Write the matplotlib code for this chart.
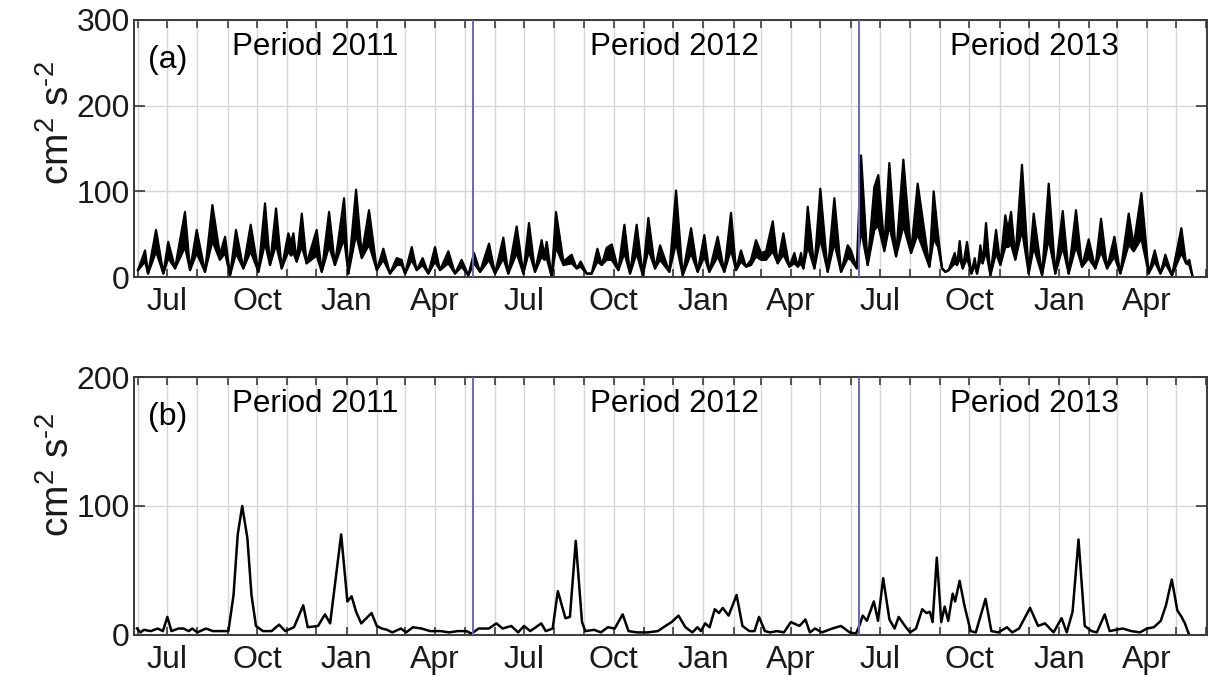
import datetime as dt

import matplotlib
matplotlib.use("Agg")
import matplotlib.dates as mdates
import matplotlib.pyplot as plt
import numpy as np
from matplotlib.ticker import FuncFormatter, MultipleLocator

plt.rcParams["font.family"] = ["Liberation Sans", "DejaVu Sans"]
plt.rcParams["mathtext.fontset"] = "custom"
plt.rcParams["mathtext.rm"] = "Liberation Sans"
plt.rcParams["mathtext.it"] = "Liberation Sans"

START = dt.datetime(2011, 6, 1)

# (a) days after START, upper and lower edge of the tidal band (cm^2 s^-2)
top_days = [
    0, 7.2, 10.3, 18.5, 26, 31, 38, 48.2, 53.4, 60.2, 68.7, 76.3, 84, 89.3, 94.4,
    100.5, 108, 115.6, 123.5, 130.3, 135.4, 141.6, 147.4, 154.2, 157, 159.4, 162.8,
    168, 173, 183.3, 188.5, 196, 202, 211.4, 215.8, 223.7, 229.5, 237, 245, 251.7,
    258.5, 265.4, 270.5, 274, 280.8, 285.9, 292, 297.9, 304.7, 309.8, 318.4, 325.2,
    332, 338.9, 344.7, 350.9, 360.1, 366.3, 374.8, 379.9, 388.5, 395.3, 401.1, 407.3,
    414.1, 416.9, 419.3, 424.4, 428.8, 436.4, 444.9, 450, 454.2, 460.3, 465.4, 471.3,
    475.7, 480.8, 486, 492.8, 499, 504.8, 511.6, 517.8, 523.6, 530.4, 535.6, 545.1,
    552, 558.8, 567.4, 574.2, 581, 586.1, 594.7, 601.5, 608.4, 613.5, 618.6, 623.8,
    628.9, 634, 639.2, 644.3, 651.2, 656.3, 662.1, 668.2, 673.4, 676.8, 680.2, 682.6,
    687.1, 693.9, 700, 707.6, 714.4, 721.3, 728.1, 731.5, 737.4, 741.8, 748.6, 755.4,
    759.5, 765.7, 770.8, 777.7, 785.2, 793.1, 799.9, 811.9, 816.3, 820.8, 824.9, 828.3,
    831.7, 837.9, 840.3, 843, 846.1, 850.5, 855, 858.4, 860.8, 864.2, 866.6, 870, 874.5,
    880.3, 884.7, 889.8, 892.6, 895.7, 900.1, 906.9, 913.8, 918.9, 927.5, 934.3, 941.1,
    948.7, 954.8, 962.3, 968.5, 975.3, 982.1, 988, 994.2, 1001.7, 1007.8, 1016.4,
    1021.5, 1029.4, 1036.9, 1043.1, 1048.9, 1054, 1060.8, 1070.4, 1075.2, 1078.6, 1082,
]
top_upper = [
    8, 31, 4, 55, 4, 41, 10, 76, 8, 55, 6, 84, 26, 47, 2,
    55, 10, 61, 6, 86, 14, 80, 10, 51, 40, 51, 18,
    74, 16, 55, 6, 76, 14, 92, 4, 102, 26, 78, 8, 33,
    4, 22, 20, 4, 35, 8, 22, 4, 35, 8, 30, 4,
    20, 2, 28, 6, 39, 4, 46, 4, 59, 4, 63, 6,
    43, 25, 41, 0, 76, 18, 26, 10, 18, 4, 4, 33,
    14, 34, 38, 8, 61, 4, 61, 2, 69, 10, 37, 6,
    101, 2, 57, 6, 49, 6, 47, 6, 75, 8, 31, 12,
    20, 43, 28, 30, 65, 16, 51, 12, 28, 12, 28, 10,
    82, 10, 103, 6, 92, 6, 37, 31, 10, 142, 14, 105,
    119, 35, 133, 24, 137, 28, 109, 12, 100, 49, 10, 6,
    8, 28, 14, 42, 10, 41, 4, 22, 4, 37, 16, 63, 2,
    55, 14, 72, 55, 76, 22, 131, 4, 74, 2, 109, 4,
    77, 4, 78, 12, 44, 10, 68, 10, 47, 4, 74,
    37, 98, 4, 31, 4, 26, 2, 57, 16, 20, 0,
]
top_lower = [
    8, 18, 4, 30, 4, 22, 10, 35, 8, 28, 6, 42, 20, 28, 2,
    28, 10, 30, 6, 40, 14, 38, 10, 30, 25, 28, 18,
    36, 16, 25, 6, 36, 14, 45, 4, 50, 22, 38, 8, 20,
    4, 14, 14, 4, 20, 8, 14, 4, 18, 8, 16, 4,
    12, 2, 16, 6, 20, 4, 22, 4, 28, 4, 30, 6,
    24, 20, 22, 0, 35, 14, 16, 10, 12, 4, 4, 18,
    14, 20, 20, 8, 28, 4, 28, 2, 32, 10, 20, 6,
    40, 2, 28, 6, 24, 6, 24, 6, 32, 8, 18, 12,
    14, 24, 20, 20, 30, 16, 26, 12, 16, 12, 16, 10,
    36, 10, 45, 6, 40, 6, 22, 20, 10, 55, 14, 55,
    60, 30, 60, 24, 60, 28, 50, 12, 45, 35, 10, 6,
    8, 16, 14, 22, 10, 22, 4, 14, 4, 20, 16, 30, 2,
    28, 14, 35, 35, 38, 20, 55, 4, 35, 2, 45, 4,
    35, 4, 36, 12, 22, 10, 30, 10, 24, 4, 38,
    30, 45, 4, 18, 4, 16, 2, 28, 16, 14, 0,
]

# (b) days after START and values (cm^2 s^-2)
bot_days = [
    -1.1, 2.5, 6.0, 13.1, 20.2, 25.5, 30.1, 34.3, 41.4, 46.7, 52.0, 55.6, 60.9, 69.7,
    76.8, 87.4, 92.7, 98.0, 102.3, 106.9, 112.2, 116.4, 121.0, 128.1, 137.0, 144.7,
    151.1, 160.0, 169.5, 174.1, 184.7, 191.8, 197.1, 208.4, 214.8, 219.1, 223.7, 229.0,
    234.3, 239.6, 244.9, 250.2, 255.5, 260.8, 269.7, 275.0, 282.1, 290.9, 299.8, 310.4,
    319.2, 328.1, 336.9, 342.2, 349.3, 359.9, 367.7, 374.1, 382.9, 390.0, 396.0, 402.4,
    413.7, 418.3, 425.4, 430.7, 438.5, 443.1, 449.1, 455.5, 459.0, 467.9, 474.9, 482.0,
    489.1, 497.2, 503.2, 512.1, 522.7, 533.3, 541.1, 547.4, 554.5, 561.6, 568.7, 574.0,
    577.5, 581.8, 586.4, 591.7, 596.0, 599.9, 605.9, 614.1, 620.1, 627.2, 632.5, 637.1,
    643.2, 648.5, 655.6, 662.7, 669.8, 678.6, 684.7, 689.3, 694.6, 701.7, 712.3, 721.2,
    730.1, 736.5, 740.0, 743.5, 747.8, 754.9, 759.2, 764.5, 770.9, 776.2, 780.4, 786.8,
    792.1, 798.2, 804.6, 808.8, 812.4, 815.2, 819.5, 824.1, 827.6, 831.2, 835.8, 838.3,
    842.9, 847.8, 854.2, 859.5, 869.5, 875.5, 882.6, 891.5, 896.8, 903.9, 915.2, 923.4,
    930.5, 939.3, 947.5, 952.8, 958.8, 964.9, 971.3, 978.4, 983.7, 991.8, 996.8, 1003.2,
    1010.3, 1019.1, 1028.0, 1035.1, 1042.2, 1049.3, 1054.6, 1060.6, 1066.3, 1070.6,
    1074.1, 1078.4,
]
bot_vals = [
    5, 2, 4, 3, 5, 3, 14, 3, 5, 5, 3, 5, 2, 5,
    3, 3, 3, 31, 78, 100, 75, 31, 7, 3, 3, 8,
    3, 6, 23, 6, 7, 16, 9, 78, 26, 30, 18, 9,
    13, 17, 7, 5, 4, 2, 5, 2, 6, 5, 3, 3,
    2, 3, 3, 1, 5, 5, 9, 5, 7, 2, 7, 3,
    9, 3, 5, 34, 13, 14, 73, 10, 3, 4, 2, 6,
    5, 16, 3, 2, 2, 3, 7, 10, 15, 6, 2, 6,
    3, 9, 6, 20, 17, 21, 15, 31, 7, 3, 3, 14,
    3, 2, 3, 2, 10, 7, 12, 2, 5, 2, 5, 7,
    2, 1, 7, 15, 11, 26, 11, 44, 12, 5, 14, 7,
    2, 5, 20, 17, 18, 10, 60, 10, 22, 11, 32, 26,
    42, 23, 3, 2, 28, 3, 2, 6, 2, 5, 21, 7,
    9, 2, 13, 2, 18, 74, 7, 3, 2, 16, 3, 4,
    5, 3, 2, 5, 6, 11, 23, 43, 19, 14,
    9, 0,
]

period_starts = [dt.datetime(2012, 5, 10), dt.datetime(2013, 6, 10)]
period_labels = ["Period 2011", "Period 2012", "Period 2013"]
label_pos = [0.169, 0.504, 0.839]
panel_tags = ["(a)", "(b)"]
ylims = [300, 200]

TEXT = "#1a1a1a"
EDGE = "#3a3a3a"
GRID = "#d6d6d6"
BLUE = "#6a64c8"
UNITS = "cm$^2$ s$^{\u2010 2}$"


def month_fmt(x, pos):
    d = mdates.num2date(x)
    if d.month in (1, 4, 7, 10):
        return d.strftime("%b")
    return ""


def style_axes(ax, ymax, tag, label_y):
    t0 = mdates.date2num(START)
    ax.set_xlim(t0 - 4.1, t0 + 1096.7)
    ax.set_ylim(0, ymax)
    ax.xaxis.set_major_locator(mdates.MonthLocator())
    ax.xaxis.set_major_formatter(FuncFormatter(month_fmt))
    ax.yaxis.set_major_locator(MultipleLocator(100))
    ax.grid(True, color=GRID, lw=1.0)
    ax.set_axisbelow(True)
    ax.tick_params(axis="x", direction="in", top=True, length=6, width=1.2,
                   color=EDGE, labelsize=23, labelcolor=TEXT, pad=7)
    ax.tick_params(axis="y", direction="in", right=True, length=8, width=1.2,
                   color=EDGE, labelsize=23, labelcolor=TEXT, pad=3)
    for s in ax.spines.values():
        s.set_color(EDGE)
        s.set_linewidth(1.4)
    for d in period_starts:
        ax.axvline(mdates.date2num(d), color=BLUE, lw=1.4, zorder=3)
    ax.set_ylabel(UNITS, fontsize=28, color=TEXT)
    ax.yaxis.set_label_coords(-0.053, label_y)
    ax.text(0.013, 0.845, tag, transform=ax.transAxes, fontsize=23,
            color="black", va="center", ha="left")
    for lab, xp in zip(period_labels, label_pos):
        ax.text(xp, 0.895, lab, transform=ax.transAxes, fontsize=22.5,
                color="black", va="center", ha="center")


fig = plt.figure(figsize=(12.24, 6.92), dpi=100)
ax_a = fig.add_axes([0.1095, 0.5997, 0.8766, 0.3714])
ax_b = fig.add_axes([0.1095, 0.0824, 0.8766, 0.3728])

t0 = mdates.date2num(START)
xa = t0 + np.array(top_days)
ax_a.fill_between(xa, top_lower, top_upper, color="black", lw=0, zorder=2)
ax_a.plot(xa, top_upper, color="black", lw=1.6, zorder=2)
ax_a.plot(xa, top_lower, color="black", lw=1.6, zorder=2)
style_axes(ax_a, ylims[0], panel_tags[0], 0.6)

xb = t0 + np.array(bot_days)
ax_b.plot(xb, bot_vals, color="black", lw=1.8, zorder=2)
style_axes(ax_b, ylims[1], panel_tags[1], 0.62)

fig.savefig("out.png", dpi=100)
